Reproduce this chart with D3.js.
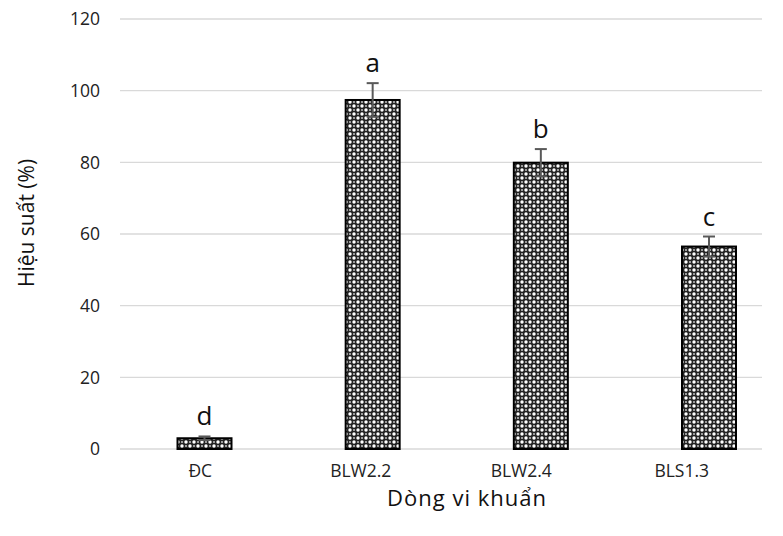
<!DOCTYPE html>
<html><head><meta charset="utf-8">
<script src="https://cdn.jsdelivr.net/npm/d3@7"></script>
<style>body{margin:0;background:#fff}svg{display:block}text{font-family:"Open Sans",sans-serif}</style>
</head><body><svg id="c" width="783" height="536"></svg>
<script>
const categories = ["ĐC", "BLW2.2", "BLW2.4", "BLS1.3"];
const values = [3.0, 97.4, 79.9, 56.5];
const errors = [0.5, 4.7, 3.8, 2.8];
const letters = ["d", "a", "b", "c"];
const yTicks = [0, 20, 40, 60, 80, 100, 120];

const svg = d3.select("#c");
const defs = svg.append("defs");
const pat = defs.append("pattern").attr("id","hatch").attr("patternUnits","userSpaceOnUse")
  .attr("width",8).attr("height",8);
pat.append("rect").attr("width",8).attr("height",8).attr("fill","#222");
[[2,2],[6,6]].forEach(([cx,cy])=>pat.append("circle").attr("cx",cx).attr("cy",cy).attr("r",1.7).attr("fill","#fff"));
[[6,2],[2,6]].forEach(([cx,cy])=>pat.append("circle").attr("cx",cx).attr("cy",cy).attr("r",1.1).attr("fill","#bbb"));

const y = d3.scaleLinear().domain([0,120]).range([449,19]);
const xAxisScale = d3.scaleBand().domain(categories).range([120,762]);
const xBar = d3.scalePoint().domain(categories).range([204.5,709]);
const barW = 54;

svg.append("g").selectAll("line").data(yTicks).join("line")
  .attr("x1",120).attr("x2",762).attr("y1",d=>y(d)).attr("y2",d=>y(d))
  .attr("stroke","#d9d9d9").attr("stroke-width",1.3);

svg.append("g").selectAll("text").data(yTicks).join("text")
  .attr("x",100).attr("y",d=>y(d)).attr("dy","0.36em").attr("text-anchor","end")
  .attr("font-size",17.5).attr("fill","#222").text(d=>d);

svg.append("g").selectAll("rect").data(values).join("rect")
  .attr("x",(d,i)=>xBar(categories[i])-barW/2).attr("width",barW)
  .attr("y",d=>y(d)).attr("height",d=>y(0)-y(d))
  .attr("fill","url(#hatch)").attr("stroke","#000").attr("stroke-width",2);

const eg = svg.append("g").attr("stroke","#595959").attr("stroke-width",2);
values.forEach((v,i)=>{
  const cx = xBar(categories[i]);
  eg.append("line").attr("x1",cx).attr("x2",cx).attr("y1",y(v-errors[i])).attr("y2",y(v+errors[i]));
  eg.append("line").attr("x1",cx-6).attr("x2",cx+6).attr("y1",y(v+errors[i])).attr("y2",y(v+errors[i]));
  eg.append("line").attr("x1",cx-6).attr("x2",cx+6).attr("y1",y(v-errors[i])).attr("y2",y(v-errors[i]));
});

svg.append("g").selectAll("text").data(values).join("text")
  .attr("x",(d,i)=>xBar(categories[i])).attr("y",(d,i)=>y(d+errors[i])-11)
  .attr("text-anchor","middle").attr("font-size",26).attr("fill","#111")
  .text((d,i)=>letters[i]);

svg.append("g").selectAll("text").data(categories).join("text")
  .attr("x",d=>xAxisScale(d)+xAxisScale.bandwidth()/2).attr("y",477)
  .attr("text-anchor","middle").attr("font-size",17.5).attr("fill","#222").text(d=>d);

svg.append("text").attr("x",467).attr("y",506).attr("text-anchor","middle")
  .attr("font-size",22).attr("letter-spacing",1).attr("fill","#111").text("Dòng vi khuẩn");
svg.append("text").attr("transform","translate(34,223) rotate(-90)").attr("text-anchor","middle")
  .attr("font-size",21).attr("fill","#111").text("Hiệu suất (%)");
</script></body></html>
